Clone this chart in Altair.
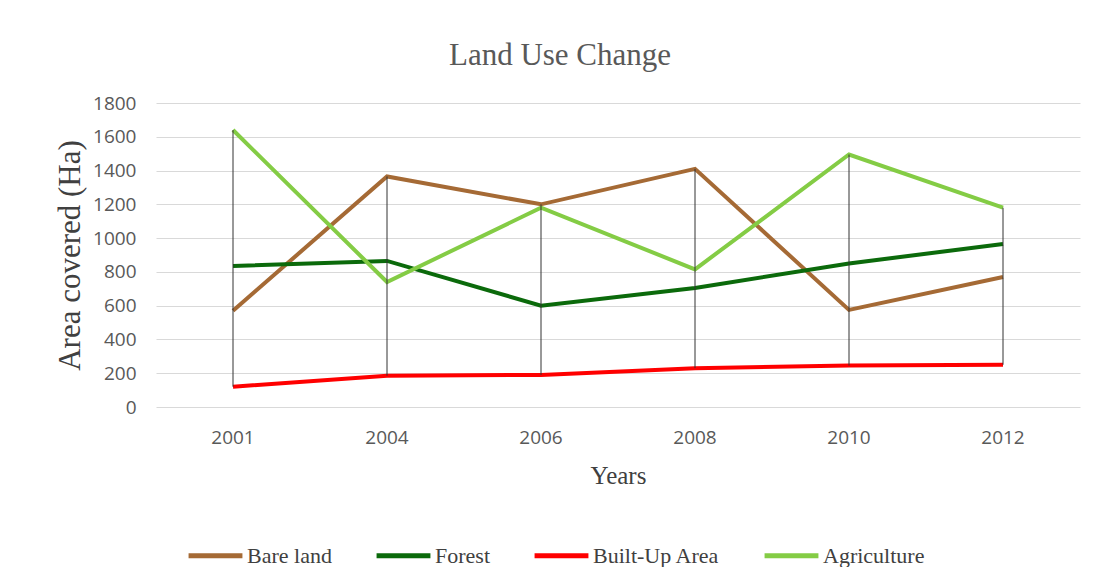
import altair as alt
import pandas as pd

years = ["2001", "2004", "2006", "2008", "2010", "2012"]
bare_land = [570, 1365, 1200, 1410, 575, 770]
forest = [835, 865, 600, 705, 850, 965]
built_up = [120, 185, 190, 230, 245, 250]
agriculture = [1640, 740, 1180, 815, 1495, 1180]

series_names = ["Bare land", "Forest", "Built-Up Area", "Agriculture"]
series_colors = ["#a56a35", "#0b6a0b", "#ff0000", "#84cc45"]
series_values = [bare_land, forest, built_up, agriculture]
y_ticks = [0, 200, 400, 600, 800, 1000, 1200, 1400, 1600, 1800]

rows = []
for name, vals in zip(series_names, series_values):
    for y, v in zip(years, vals):
        rows.append({"Year": y, "Series": name, "Value": v})
df = pd.DataFrame(rows)

serif = "Liberation Serif"
sans = "Open Sans"

x_axis = alt.Axis(title="Years", labelAngle=0, ticks=False, domain=False,
                  labelFont=sans, labelFontSize=19, labelColor="#595959",
                  labelPadding=21, titleFont=serif, titleFontSize=25,
                  titleFontWeight="normal", titleColor="#404040", titlePadding=16)
y_axis = alt.Axis(title="Area covered (Ha)", values=y_ticks, format="d",
                  labelOverlap=False, ticks=False, domain=False, gridColor="#d9d9d9",
                  labelFont=sans, labelFontSize=19, labelColor="#595959",
                  labelPadding=20, titleFont=serif, titleFontSize=31,
                  titleFontWeight="normal", titleColor="#404040", titlePadding=6)
x_scale = alt.Scale(paddingInner=0, paddingOuter=0)
y_scale = alt.Scale(domain=[0, 1800])

hilo = alt.Chart(df).transform_aggregate(
    lo="min(Value)", hi="max(Value)", groupby=["Year"]
).mark_rule(color="#333333", strokeWidth=1).encode(
    x=alt.X("Year:N", sort=years, scale=x_scale, axis=x_axis),
    y=alt.Y("lo:Q", scale=y_scale, axis=y_axis), y2="hi:Q"
)

lines = alt.Chart(df).mark_line(strokeWidth=4).encode(
    x=alt.X("Year:N", sort=years, scale=x_scale, axis=x_axis),
    y=alt.Y("Value:Q", scale=y_scale, axis=y_axis),
    color=alt.Color("Series:N", sort=series_names,
                    scale=alt.Scale(domain=series_names, range=series_colors),
                    legend=alt.Legend(title=None, orient="none", direction="horizontal",
                                      legendX=30, legendY=423, symbolType="stroke",
                                      symbolSize=2900, symbolStrokeWidth=5,
                                      labelFont=serif, labelFontSize=22, labelColor="#404040",
                                      columnPadding=34, labelOffset=2)),
    order=alt.Order("Series:N")
)

chart = alt.layer(lines, hilo).properties(
    width=924, height=304,
    background="white",
    title=alt.Title("Land Use Change", font=serif, fontSize=31, fontWeight="normal",
                    color="#595959", anchor="middle", offset=22, dx=-58),
    autosize=alt.AutoSizeParams(type="none"),
    padding={"left": 148, "top": 95, "right": 6, "bottom": 160},
).configure_view(strokeWidth=0, stroke="transparent")

chart.save("out.html", embed_options={"renderer": "svg", "actions": False})
